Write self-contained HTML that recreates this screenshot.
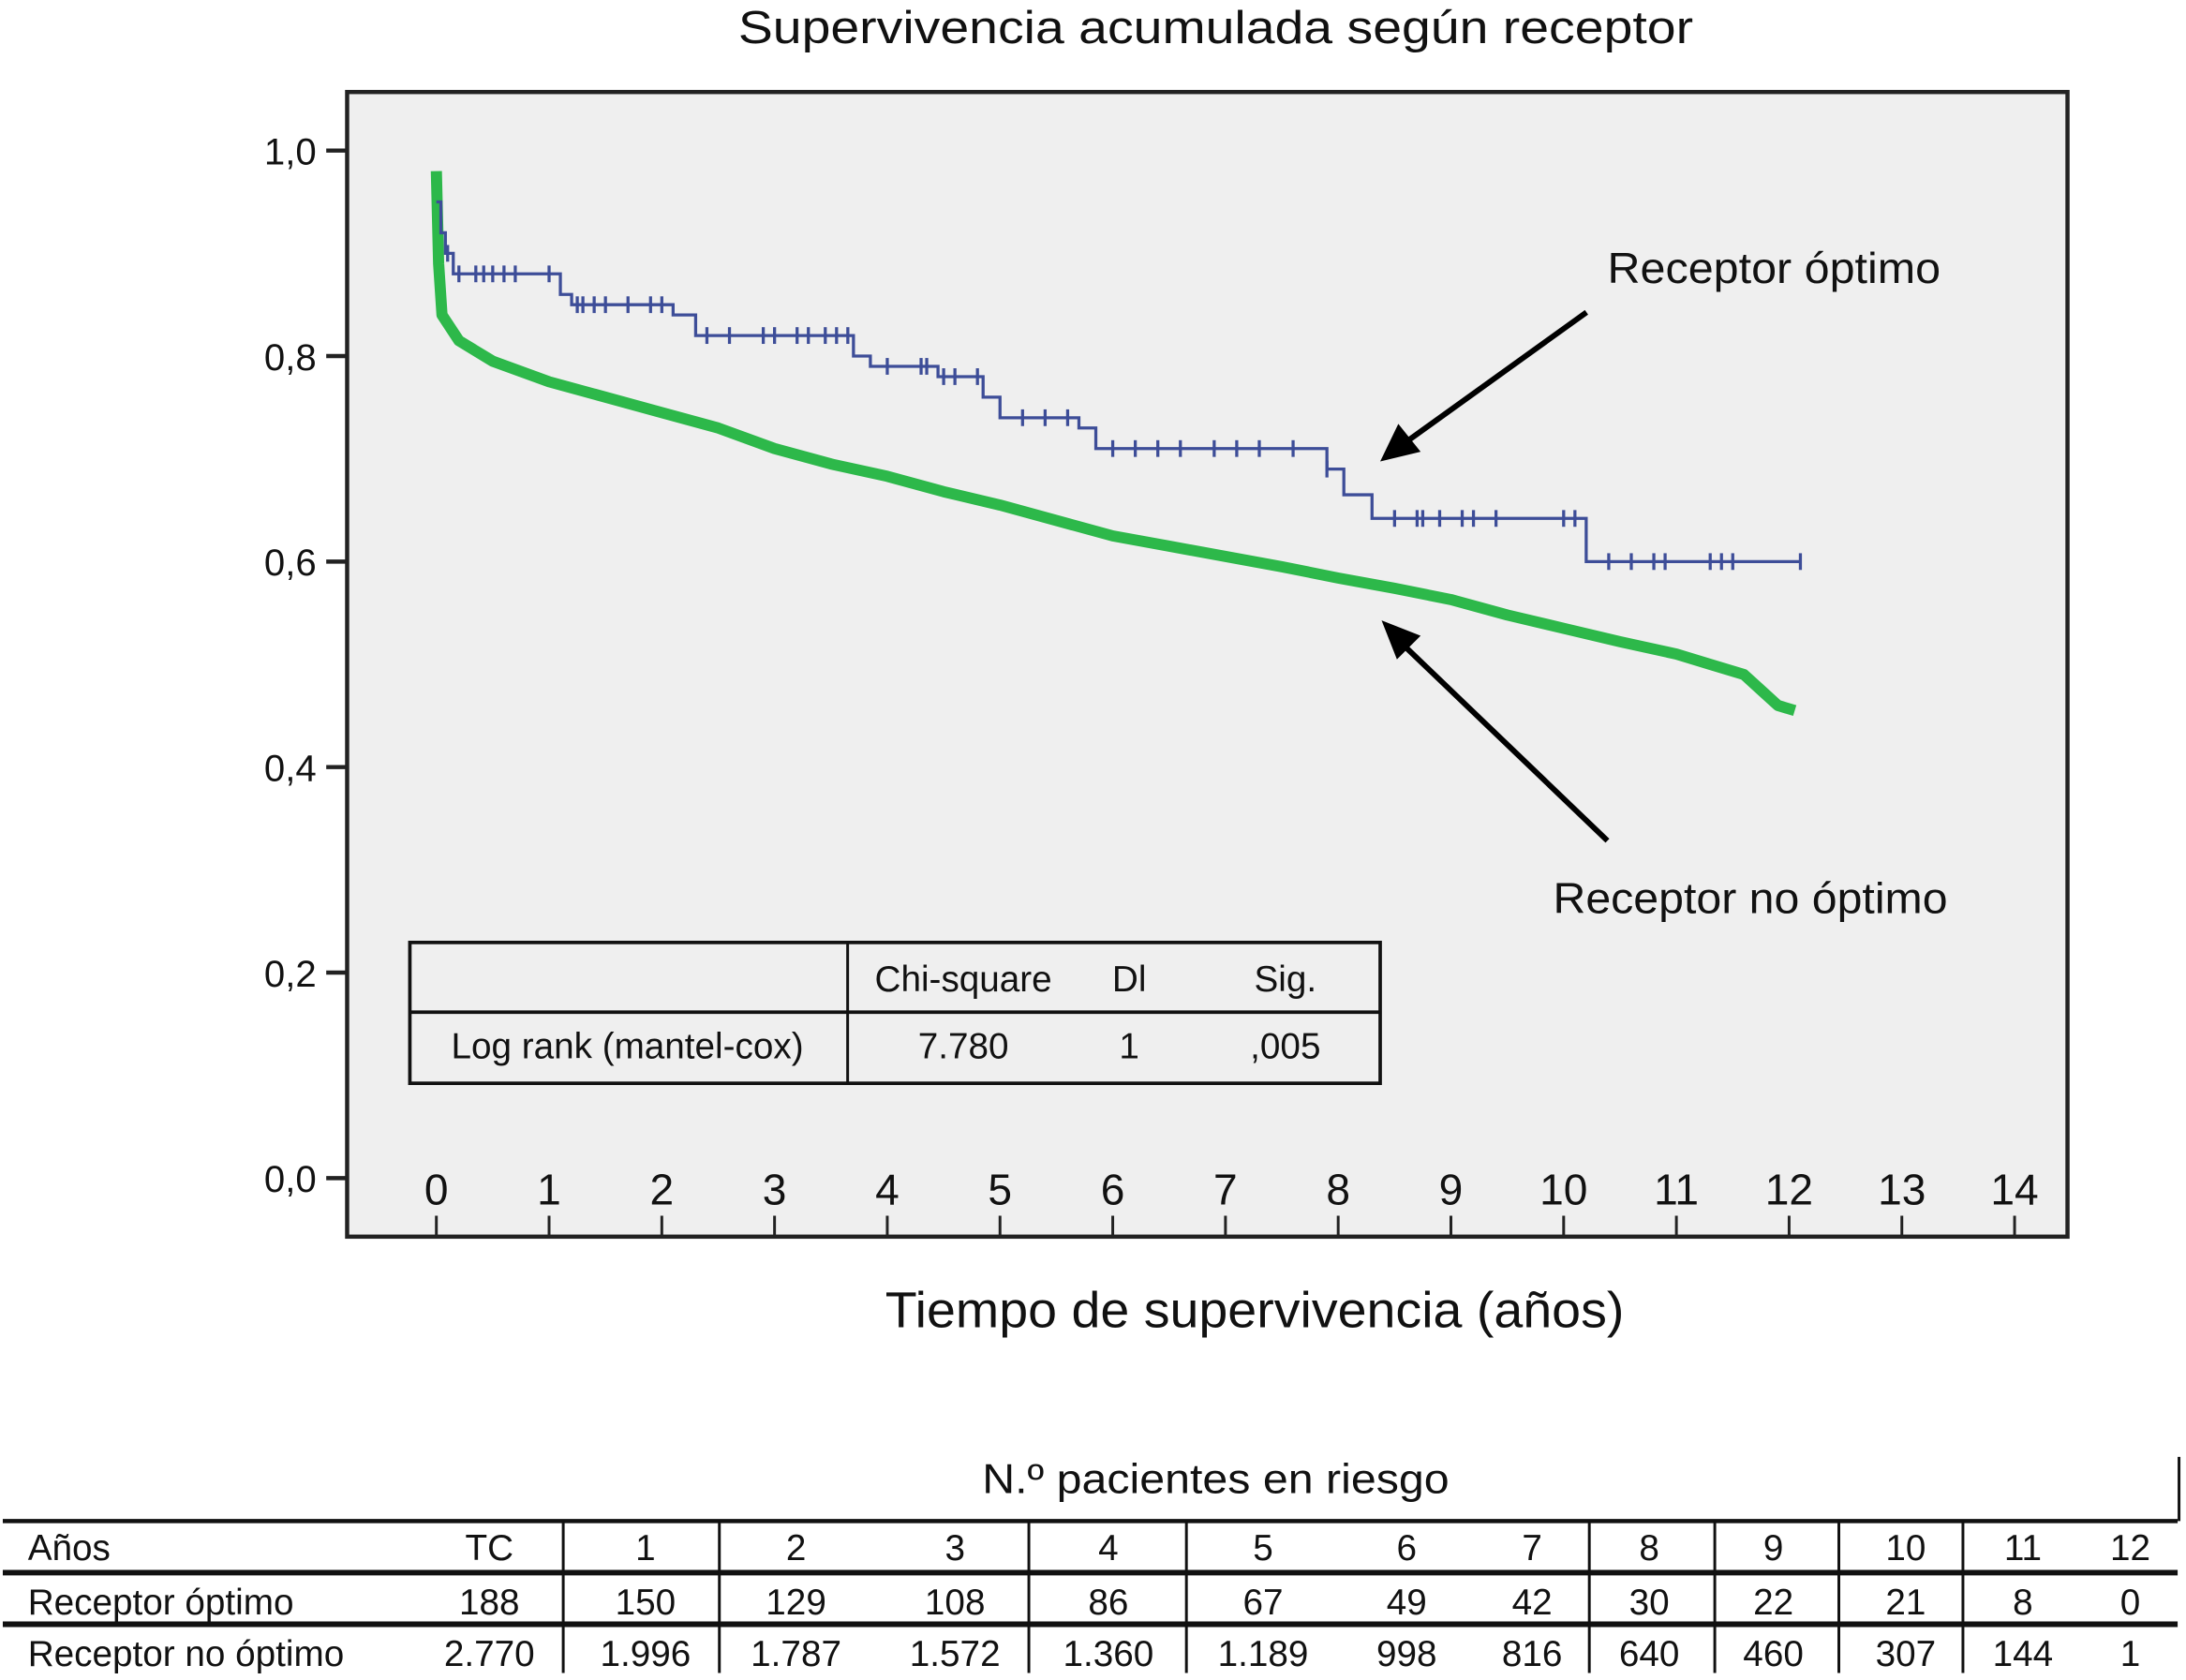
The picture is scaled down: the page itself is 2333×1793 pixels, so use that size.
<!DOCTYPE html>
<html><head><meta charset="utf-8"><style>
html,body{margin:0;padding:0;background:#fff}
svg{display:block}
text{font-family:"Liberation Sans",sans-serif;fill:#111}
</style></head><body>
<svg id="chart" width="2333" height="1793" viewBox="0 0 1568 1205" preserveAspectRatio="none" xmlns="http://www.w3.org/2000/svg">
<text x="872" y="31" font-size="33" text-anchor="middle" textLength="685" lengthAdjust="spacingAndGlyphs">Supervivencia acumulada según receptor</text>
<rect x="249" y="66" width="1234" height="821" fill="#efefef" stroke="#222" stroke-width="3"/>
<g id="yaxis"></g>
<g id="xaxis"></g>
<g id="series"></g>
<text x="900" y="952" font-size="36" text-anchor="middle" textLength="530" lengthAdjust="spacingAndGlyphs">Tiempo de supervivencia (años)</text>
<text x="1153" y="203" font-size="31" textLength="239" lengthAdjust="spacingAndGlyphs">Receptor óptimo</text>
<text x="1114" y="655" font-size="31" textLength="283" lengthAdjust="spacingAndGlyphs">Receptor no óptimo</text>
<g>
<line x1="1138" y1="224" x2="1010" y2="316" stroke="#000" stroke-width="4"/>
<polygon points="990,331 1003,304 1019,324" fill="#000"/>
</g>
<g>
<line x1="1153" y1="603" x2="1006" y2="462" stroke="#000" stroke-width="4"/>
<polygon points="991,445 1019,456 1002,473" fill="#000"/>
</g>
<g>
<rect x="294" y="676" width="696" height="101" fill="none" stroke="#111" stroke-width="2.5"/>
<line x1="294" y1="726" x2="990" y2="726" stroke="#111" stroke-width="2.5"/>
<line x1="608" y1="676" x2="608" y2="777" stroke="#111" stroke-width="2"/>
<g font-size="26" text-anchor="middle">
<text x="691" y="711">Chi-square</text><text x="810" y="711">Dl</text><text x="922" y="711">Sig.</text>
<text x="450" y="759">Log rank (mantel-cox)</text><text x="691" y="759">7.780</text><text x="810" y="759">1</text><text x="922" y="759">,005</text>
</g></g>
<text x="872" y="1071" font-size="30" text-anchor="middle" textLength="335" lengthAdjust="spacingAndGlyphs">N.º pacientes en riesgo</text>
<g id="risk"></g>
</svg>
<script>
const yTicks=[0,0.2,0.4,0.6,0.8,1.0];
const yTickLabels=["0,0","0,2","0,4","0,6","0,8","1,0"];
const xTicks=[0,1,2,3,4,5,6,7,8,9,10,11,12,13,14];
const optTimes=[0,0.04,0.08,0.15,0.3,1.1,1.2,2.1,2.3,3.7,3.85,4.45,4.85,5.0,5.7,5.85,7.9,8.05,8.3,10.2,12.1];
const optSurv=[0.95,0.92,0.90,0.88,0.88,0.86,0.85,0.84,0.82,0.80,0.79,0.78,0.76,0.74,0.73,0.71,0.69,0.665,0.642,0.60,0.60];
const optCensor=[0.1,0.2,0.35,0.42,0.5,0.6,0.7,1.0,1.25,1.3,1.4,1.5,1.7,1.9,2.0,2.4,2.6,2.9,3.0,3.2,3.3,3.45,3.55,3.65,4.0,4.3,4.35,4.5,4.6,4.8,5.2,5.4,5.6,6.0,6.2,6.4,6.6,6.9,7.1,7.3,7.6,7.9,8.5,8.7,8.75,8.9,9.1,9.2,9.4,10.0,10.1,10.4,10.6,10.8,10.9,11.3,11.4,11.5,12.1];
const nonTimes=[0,0.02,0.05,0.2,0.5,1,1.5,2,2.5,3,3.5,4,4.5,5,5.5,6,6.5,7,7.5,8,8.5,9,9.5,10,10.5,11,11.3,11.6,11.75,11.9,12.05];
const nonSurv=[0.98,0.89,0.84,0.815,0.795,0.775,0.76,0.745,0.73,0.71,0.695,0.683,0.668,0.655,0.64,0.625,0.615,0.605,0.595,0.584,0.574,0.563,0.548,0.535,0.522,0.51,0.50,0.49,0.475,0.46,0.455];
const riskHeader=["Años","TC","1","2","3","4","5","6","7","8","9","10","11","12"];
const riskOpt=["Receptor óptimo","188","150","129","108","86","67","49","42","30","22","21","8","0"];
const riskNon=["Receptor no óptimo","2.770","1.996","1.787","1.572","1.360","1.189","998","816","640","460","307","144","1"];

const NS="http://www.w3.org/2000/svg";
const X=t=>313+t*80.86;
const Y=v=>845-v*737;
function mk(tag,parent,attrs){const e=document.createElementNS(NS,tag);for(const k in attrs)e.setAttribute(k,attrs[k]);parent.appendChild(e);return e;}
const ya=document.getElementById('yaxis');
yTicks.forEach((v,i)=>{
  const l=mk('line',ya,{x1:234,x2:249,y1:Y(v),y2:Y(v),stroke:'#222','stroke-width':3});
  
  
  const t=mk('text',ya,{x:227,y:Y(v)+10,'font-size':27,'text-anchor':'end'});
  t.textContent=yTickLabels[i];
  
  
});
const xa=document.getElementById('xaxis');
xTicks.forEach(v=>{
  const l=mk('line',xa,{x1:X(v),x2:X(v),y1:872,y2:887,stroke:'#222','stroke-width':2});
  
  
  const t=mk('text',xa,{x:X(v),y:864,'font-size':31,'text-anchor':'middle'});
  t.textContent=v;
  
  
});
function stepAt(times,surv,t){let s=surv[0];for(let i=0;i<times.length;i++){if(times[i]<=t)s=surv[i];}return s;}
const sg=document.getElementById('series');
// non-optimal (green) thick line
let dn='M'+X(nonTimes[0])+','+Y(nonSurv[0]);
for(let i=1;i<nonTimes.length;i++){dn+=' L'+X(nonTimes[i])+','+Y(nonSurv[i]);}
const gp=mk('path',sg,{d:dn,fill:'none',stroke:'#2db84a','stroke-width':8,'stroke-linejoin':'round'});


// optimal (blue) step line
let d='M'+X(optTimes[0])+','+Y(optSurv[0]);
for(let i=1;i<optTimes.length;i++){d+=' H'+X(optTimes[i])+' V'+Y(optSurv[i]);}
const bp=mk('path',sg,{d:d,fill:'none',stroke:'#3d4d98','stroke-width':2.2});


optCensor.forEach(t=>{
  const v=stepAt(optTimes,optSurv,t);
  const c=mk('line',sg,{x1:X(t),x2:X(t),y1:Y(v)-6,y2:Y(v)+6,stroke:'#3d4d98','stroke-width':2.2});
  
  
});
// risk table
const rg=document.getElementById('risk');
const colX=[20,351,463,571,685,795,906,1009,1099,1183,1272,1367,1451,1528];
const vlines=[404,516,738,851,1140,1230,1319,1408];
[[1091,3],[1128,4],[1165,4]].forEach(([y,w])=>{mk('line',rg,{x1:2,x2:1562,y1:y,y2:y,stroke:'#111','stroke-width':w});});
mk('line',rg,{x1:1563,x2:1563,y1:1045,y2:1091,stroke:'#111','stroke-width':2});
vlines.forEach(x=>{mk('line',rg,{x1:x,x2:x,y1:1091,y2:1200,stroke:'#111','stroke-width':2});});
[[riskHeader,1119],[riskOpt,1158],[riskNon,1195]].forEach(([row,y])=>{
  row.forEach((s,i)=>{
    const t=mk('text',rg,{x:colX[i],y:y,'font-size':26,'text-anchor':i===0?'start':'middle'});
    t.textContent=s;
    
    
  });
});
</script>
</body></html>
